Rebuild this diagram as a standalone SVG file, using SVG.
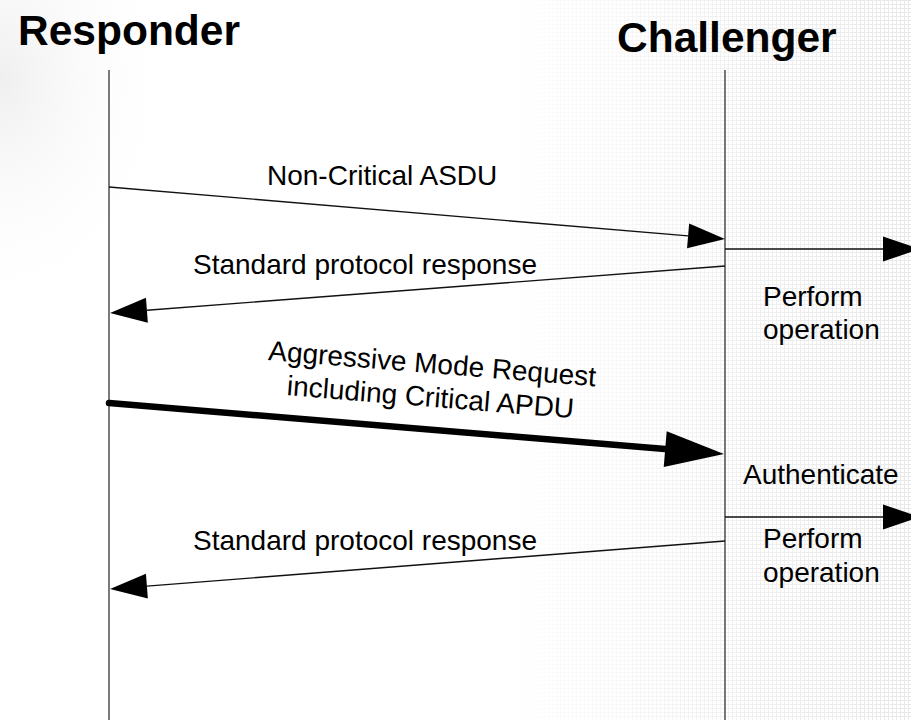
<svg xmlns="http://www.w3.org/2000/svg" width="911" height="720" viewBox="0 0 911 720">
<style>
.t{font-family:"Liberation Sans",Arial,sans-serif;font-size:28px;fill:#000}
.h{font-family:"Liberation Sans",Arial,sans-serif;font-size:42.5px;font-weight:bold;fill:#000}
.life{stroke:#222;stroke-width:1.2;fill:none}
.msg{stroke:#111;stroke-width:1.4;fill:none}
</style>
<defs>
<marker id="head" markerUnits="userSpaceOnUse" markerWidth="40" markerHeight="28" refX="0" refY="13" orient="auto" overflow="visible">
<path d="M0,0.5 L37,13 L0,25.5 z" fill="#000"/>
</marker>
<marker id="headBig" markerUnits="userSpaceOnUse" markerWidth="62" markerHeight="38" refX="0" refY="18" orient="auto" overflow="visible">
<path d="M0,0 L59,18 L0,36 z" fill="#000"/>
</marker>
<pattern id="grid" width="4" height="4" patternUnits="userSpaceOnUse">
<path d="M0,0.5 H4 M0.5,0 V4" stroke="#e9e9e9" stroke-width="1" fill="none"/>
</pattern>
<linearGradient id="fadeR" x1="0" y1="0" x2="1" y2="0">
<stop offset="0" stop-color="#fff" stop-opacity="0"/>
<stop offset="0.5" stop-color="#fff" stop-opacity="0.6"/>
<stop offset="1" stop-color="#fff" stop-opacity="1"/>
</linearGradient>
<mask id="gridMask">
<rect x="500" y="0" width="411" height="720" fill="url(#fadeR)"/>
</mask>
<radialGradient id="tl" cx="0" cy="0.2" r="0.6">
<stop offset="0" stop-color="#efefef"/>
<stop offset="1" stop-color="#ffffff" stop-opacity="0"/>
</radialGradient>
</defs>
<rect width="911" height="720" fill="#fff"/>
<rect x="0" y="0" width="300" height="400" fill="url(#tl)"/>
<rect x="500" y="0" width="411" height="720" fill="url(#grid)" mask="url(#gridMask)"/>

<g id="responder">
<text class="h" x="18" y="45">Responder</text>
<line class="life" x1="109" y1="70" x2="109" y2="720"/>
</g>
<g id="challenger">
<text class="h" x="617" y="52">Challenger</text>
<line class="life" x1="725" y1="70" x2="725" y2="720"/>
</g>

<g id="connectors">
<line class="msg" x1="109" y1="187" x2="688.1" y2="235.9" marker-end="url(#head)"/>
<line class="msg" x1="725" y1="266" x2="146.9" y2="310.2" marker-end="url(#head)"/>
<line class="msg" x1="725" y1="249" x2="883" y2="249" marker-end="url(#head)"/>
<line x1="109" y1="403" x2="665.2" y2="449.1" stroke="#000" stroke-width="6.5" stroke-linecap="round" marker-end="url(#headBig)"/>
<line class="msg" x1="725" y1="517" x2="883" y2="517" stroke="#444" marker-end="url(#head)"/>
<line class="msg" x1="725" y1="541" x2="146.9" y2="586.1" marker-end="url(#head)"/>
</g>

<g id="labels">
<text class="t" x="267" y="185">Non-Critical ASDU</text>
<text class="t" x="193" y="274">Standard protocol response</text>
<g transform="translate(268,360) rotate(4.6)">
<text class="t" x="164" y="0" text-anchor="middle">Aggressive Mode Request</text>
<text class="t" x="165" y="33.5" text-anchor="middle">including Critical APDU</text>
</g>
<text class="t" x="193" y="550">Standard protocol response</text>
</g>

<g id="challenger-actions">
<text class="t" x="763" y="306">Perform</text>
<text class="t" x="763" y="339">operation</text>
<text class="t" x="743" y="484">Authenticate</text>
<text class="t" x="763" y="548">Perform</text>
<text class="t" x="763" y="582">operation</text>
</g>
</svg>
